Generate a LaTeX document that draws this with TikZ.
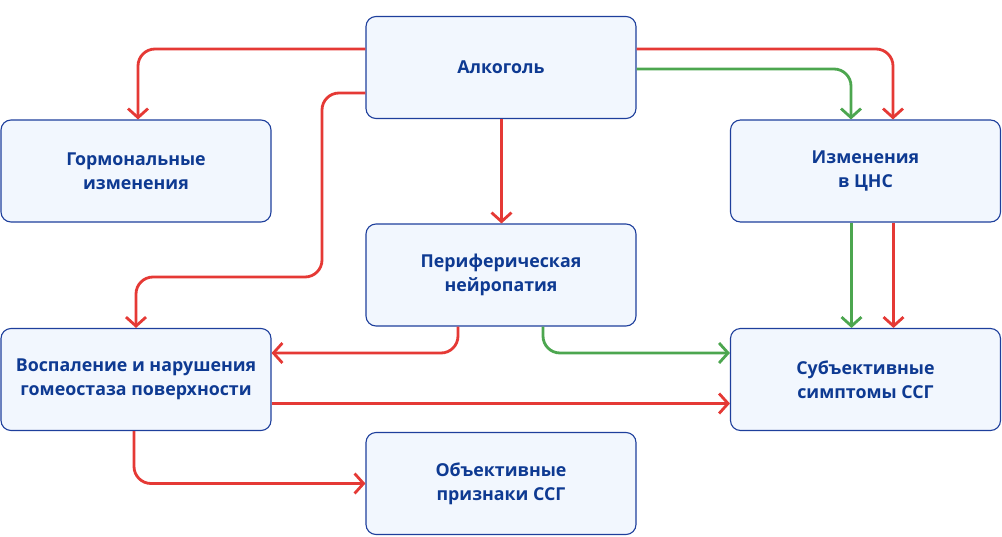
\documentclass[tikz,border=0pt]{standalone}
\usepackage{fontspec}
\setmainfont{Open Sans}
\usetikzlibrary{arrows.meta,calc}
\definecolor{boxfill}{HTML}{F2F7FE}
\definecolor{boxline}{HTML}{1E3F9C}
\definecolor{txt}{HTML}{0E3A92}
\definecolor{redl}{HTML}{E53935}
\definecolor{greenl}{HTML}{4CA64F}
\tikzset{
  box/.style={draw=boxline, fill=boxfill, line width=1.1pt, rounded corners=10pt,
    minimum width=270pt, minimum height=102pt, inner sep=0pt, align=center,
    text=txt, font=\fontsize{17.8pt}{24pt}\selectfont\bfseries},
  conn/.style={line width=2.8pt, rounded corners=17pt,
    -{Straight Barb[length=9pt,width=20pt,line width=2.8pt]}},
  rc/.style={conn, draw=redl},
  gc/.style={conn, draw=greenl},
}
\begin{document}
\begin{tikzpicture}[x=1pt,y=-1pt]
\useasboundingbox (0,0) rectangle (1002,536);
\node[box] (alk) at (501,67.5) {Алкоголь};
\node[box] (horm) at (136,171) {Гормональные\\изменения};
\node[box] (cns) at (865.5,171) {Изменения\\в ЦНС};
\node[box] (per) at (501,275) {Периферическая\\нейропатия};
\node[box] (inf) at (136,379.5) {Воспаление и нарушения\\гомеостаза поверхности};
\node[box] (subj) at (865.5,379.5) {Субъективные\\симптомы ССГ};
\node[box] (obj) at (501,483.5) {Объективные\\признаки ССГ};
\coordinate (c1) at (322,277);

\draw[rc] ([yshift=18.5pt]alk.west) -| ([xshift=2pt]horm.north);
\draw[rc] ([yshift=-25.5pt]alk.west) -| (c1) -| (inf.north);
\draw[rc] ([xshift=0.5pt]alk.south) -- ([xshift=0.5pt]per.north);
\draw[rc] ([yshift=18.5pt]alk.east) -| ([xshift=27.5pt]cns.north);
\draw[gc] ([yshift=-1.5pt]alk.east) -| ([xshift=-14.5pt]cns.north);
\draw[gc] ([xshift=-14pt]cns.south) -- ([xshift=-14pt]subj.north);
\draw[rc] ([xshift=28pt]cns.south) -- ([xshift=28pt]subj.north);
\draw[rc] ([xshift=-43pt]per.south) |- ([yshift=26.5pt]inf.east);
\draw[gc] ([xshift=42pt]per.south) |- ([yshift=26.5pt]subj.west);
\draw[rc] ([yshift=-24pt]inf.east) -- ([yshift=-24pt]subj.west);
\draw[rc] ([xshift=-2pt]inf.south) |- (obj.west);
\end{tikzpicture}
\end{document}
